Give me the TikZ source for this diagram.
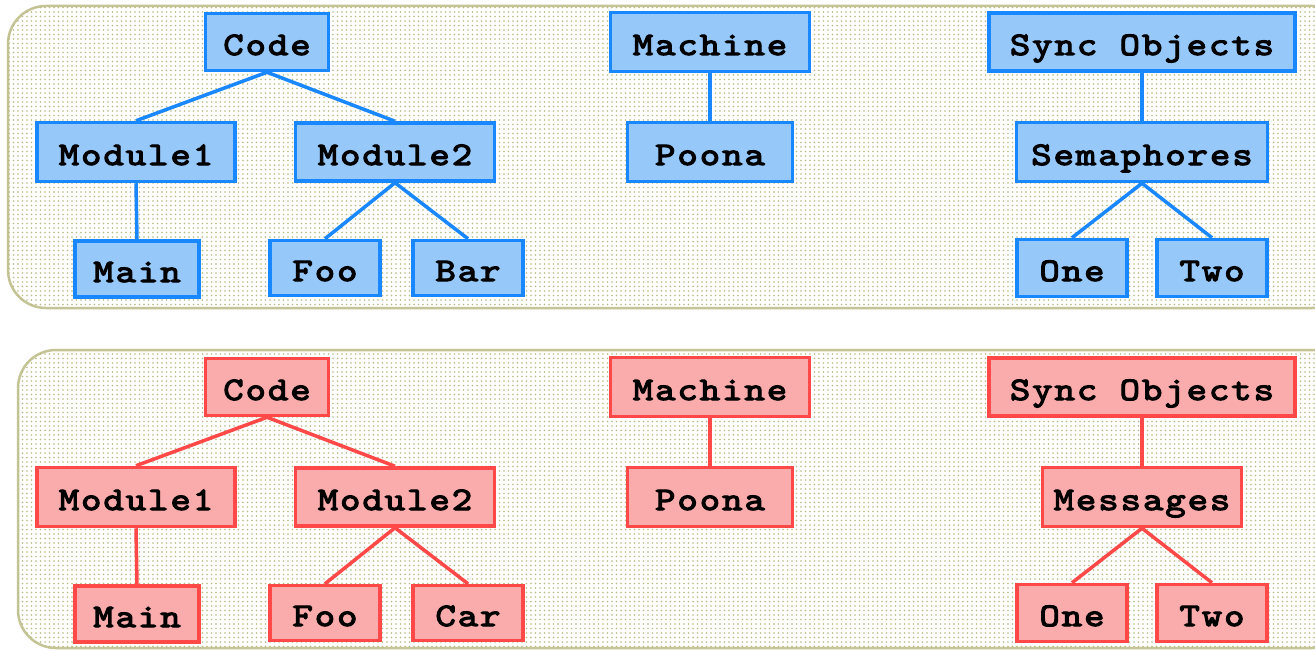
\documentclass[tikz,border=0pt]{standalone}
\usepackage{fontspec}
\newfontfamily\boxfont{lmmono10-regular.otf}[FakeBold=3.5, FakeStretch=1.18, LetterSpace=6]
\usetikzlibrary{patterns}
\pgfdeclarepatternformonly{paneldots}{\pgfqpoint{-1bp}{-1bp}}{\pgfqpoint{1bp}{1bp}}{\pgfqpoint{4.5bp}{4.5bp}}{\pgfpathcircle{\pgfqpoint{0bp}{0bp}}{0.9bp}\pgfusepath{fill}}
\definecolor{panelline}{RGB}{196,196,150}
\definecolor{paneldot}{RGB}{185,185,130}
\definecolor{bluebd}{RGB}{25,135,255}
\definecolor{bluefill}{RGB}{150,200,250}
\definecolor{redbd}{RGB}{255,72,72}
\definecolor{redfill}{RGB}{250,172,172}
\tikzset{
  panel/.style={draw=panelline, line width=2.5bp, rounded corners=38bp, fill=white,
    postaction={pattern=paneldots, pattern color=paneldot}},
  tbox/.style={draw=#1, line width=3.5bp, inner sep=0pt, minimum height=57bp,
    text height=26bp, text depth=0bp,
    font=\boxfont\fontsize{33}{33}\selectfont, text=black},
  tline/.style={draw=#1, line width=3.5bp},
}
\newcommand\treepanel[7]{%
  \begin{scope}[shift={(0,#2)}]
    \node[tbox=#3, fill=#4, minimum width=123bp] (#1code) at (267,42) {Code};
    \node[tbox=#3, fill=#4, minimum width=198bp, minimum height=59bp] (#1mod1) at (136,152) {Module1};
    \node[tbox=#3, fill=#4, minimum width=124bp, minimum height=56bp] (#1main) at (137,269) {Main};
    \node[tbox=#3, fill=#4, minimum width=199bp, minimum height=58bp] (#1mod2) at (395,152) {Module2};
    \node[tbox=#3, fill=#4, minimum width=110bp, minimum height=55bp] (#1foo) at (325,268) {Foo};
    \node[tbox=#3, fill=#4, minimum width=110bp, minimum height=55bp] (#1bar) at (468,268) {#6};
    \node[tbox=#3, fill=#4, minimum width=199bp, minimum height=59bp] (#1mach) at (710,42) {Machine};
    \node[tbox=#3, fill=#4, minimum width=165bp, minimum height=59bp] (#1poona) at (710,152) {Poona};
    \node[tbox=#3, fill=#4, minimum width=306bp, minimum height=58bp] (#1sync) at (1142,42) {Sync Objects};
    \node[tbox=#3, fill=#4, minimum width=#7, minimum height=59bp] (#1mid) at (1142,152) {#5};
    \node[tbox=#3, fill=#4, minimum width=110bp] (#1one) at (1072,268) {One};
    \node[tbox=#3, fill=#4, minimum width=110bp] (#1two) at (1212,268) {Two};
    \draw[tline=#3] (#1code.south) -- (#1mod1.north);
    \draw[tline=#3] (#1code.south) -- (#1mod2.north);
    \draw[tline=#3] (#1mod1.south) -- (#1main.north);
    \draw[tline=#3] (#1mod2.south) -- (#1foo.north);
    \draw[tline=#3] (#1mod2.south) -- (#1bar.north);
    \draw[tline=#3] (#1mach.south) -- (#1poona.north);
    \draw[tline=#3] (#1sync.south) -- (#1mid.north);
    \draw[tline=#3] (#1mid.south) -- (#1one.north);
    \draw[tline=#3] (#1mid.south) -- (#1two.north);
  \end{scope}}
\begin{document}
\begin{tikzpicture}[x=1bp, y=-1bp]
  \useasboundingbox (0,0) rectangle (1315,651);
  \clip (0,0) rectangle (1315,651);
  \fill[white] (0,0) rectangle (1315,651);
  \path[panel] (8,6) rectangle (1350,308);
  \path[panel] (18,350) rectangle (1350,648);
  \treepanel{t}{0}{bluebd}{bluefill}{Semaphores}{Bar}{251bp}
  \treepanel{b}{345}{redbd}{redfill}{Messages}{Car}{199bp}
\end{tikzpicture}
\end{document}
